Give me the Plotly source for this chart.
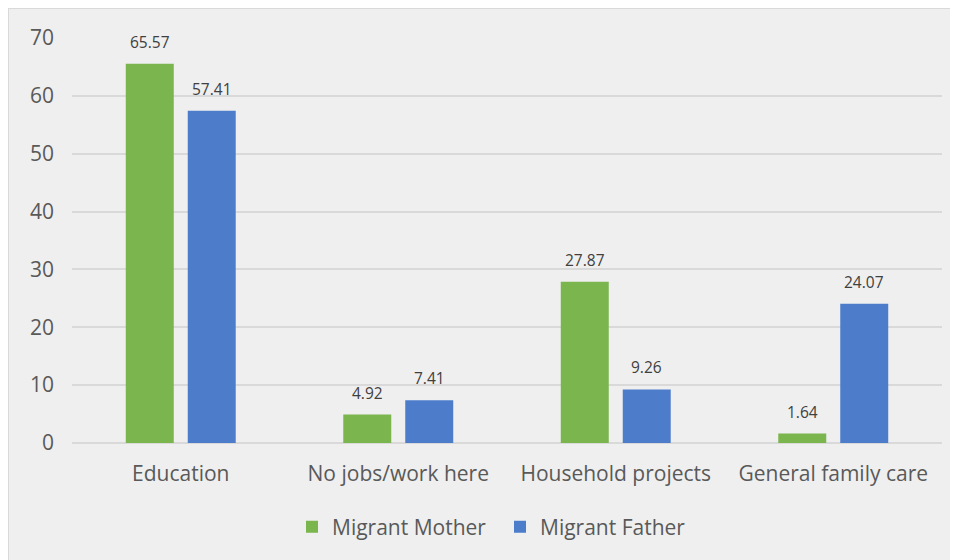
import plotly.graph_objects as go

categories = ["Education", "No jobs/work here", "Household projects", "General family care"]
mother = [65.57, 4.92, 27.87, 1.64]
father = [57.41, 7.41, 9.26, 24.07]
series_names = ["Migrant Mother", "Migrant Father"]
y_ticks = [0, 10, 20, 30, 40, 50, 60, 70]

GREEN = "#7AB54E"
BLUE = "#4D7CCB"
FONT = "Open Sans"

# body margin of 8px offsets the figure in the page
W, H = 950, 552
L, R, T, B = 64, 16, 30, 117
pw, ph = W - L - R, H - T - B
BARGAP = 0.43
band = pw / len(categories)
slot_off = band * (1 - BARGAP) / 4  # centre offset of each bar within its group

fig = go.Figure()
annotations = []
for i, (name, vals, col) in enumerate([(series_names[0], mother, GREEN), (series_names[1], father, BLUE)]):
    fig.add_trace(go.Bar(
        x=categories, y=vals, name=name, marker_color=col,
        marker_line_width=0,
    ))
    for c, v in zip(categories, vals):
        annotations.append(dict(
            x=c, y=v, xref="x", yref="y", text=f"{v:.2f}", showarrow=False,
            xshift=(-1 if i == 0 else 1) * slot_off, yshift=22, yanchor="middle",
            font=dict(family=FONT, size=15.5, color="#404040"),
        ))

fig.update_layout(
    width=W, height=H,
    margin=dict(l=L, r=R, t=T, b=B),
    paper_bgcolor="#EFEFEF",
    plot_bgcolor="rgba(0,0,0,0)",
    barmode="group",
    bargap=BARGAP,
    bargroupgap=0.226,
    font=dict(family=FONT, color="#595959", size=21),
    showlegend=True,
    annotations=annotations,
    legend=dict(orientation="h", x=(284 - L) / pw, xanchor="left", y=-84 / ph, yanchor="middle",
                bgcolor="rgba(0,0,0,0)", entrywidth=163, entrywidthmode="pixels",
                font=dict(size=21, color="#595959"), itemwidth=30, traceorder="normal"),
    shapes=[dict(type="rect", xref="paper", yref="paper", layer="below",
                 x0=-L / pw, x1=(W + 5 - L) / pw,
                 y0=-(B + 5) / ph, y1=(ph + T) / ph,
                 fillcolor="rgba(0,0,0,0)", line=dict(color="#D9D9D9", width=2))],
)
fig.update_xaxes(showgrid=False, showline=False, ticks="", tickfont=dict(size=21, color="#595959"),
                 ticklabelstandoff=16)
fig.update_yaxes(range=[0, 70], tickvals=y_ticks, showgrid=True, gridcolor="#D9D9D9", gridwidth=1.5,
                 zeroline=True, zerolinecolor="#D9D9D9", zerolinewidth=1.5, showline=False, ticks="",
                 tickfont=dict(size=21, color="#595959"), ticklabelstandoff=17)

fig.write_html("out.html")
